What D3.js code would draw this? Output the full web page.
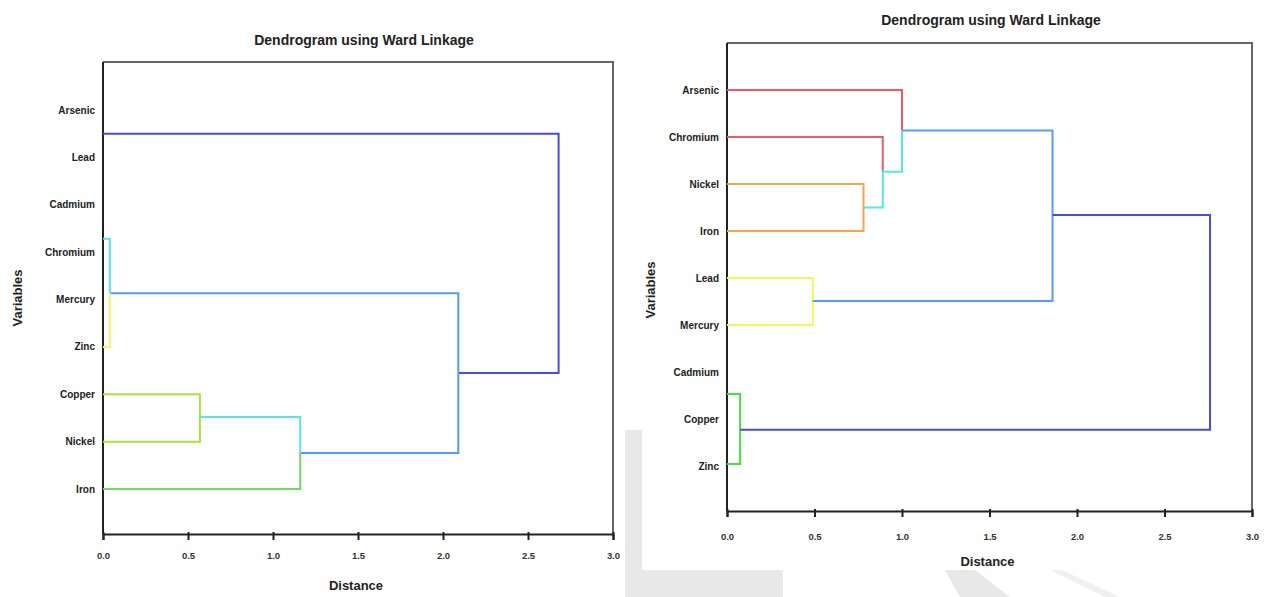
<!DOCTYPE html>
<html>
<head>
<meta charset="utf-8">
<script src="https://cdn.jsdelivr.net/npm/d3@7"></script>
<style>
  body { margin: 0; background: #fff; }
  svg { display: block; font-family: "Liberation Sans", Arial, sans-serif; }
  .lbl { font-size: 10px; font-weight: bold; fill: #222; }
  .tick-lbl { font-size: 9.5px; font-weight: bold; fill: #333; }
  .title { font-size: 14px; font-weight: bold; fill: #222; }
  .axt { font-size: 13px; font-weight: bold; fill: #222; }
</style>
</head>
<body>
<svg id="chart" width="1272" height="597"></svg>
<script>
// distance ticks shared by both panels
const distTicks = [0, 0.5, 1.0, 1.5, 2.0, 2.5, 3.0];

// left panel
const leftRows = ['Arsenic', 'Lead', 'Cadmium', 'Chromium', 'Mercury', 'Zinc', 'Copper', 'Nickel', 'Iron'];
// each branch: group name + polyline of [distance, row]
const leftBranches = [
  { g: 'navy',   pts: [[0, 0.5], [2.68, 0.5], [2.68, 5.55], [2.09, 5.55]] },
  { g: 'sky',    pts: [[0.04, 3.87], [2.09, 3.87], [2.09, 7.24], [1.16, 7.24]] },
  { g: 'cyan',   pts: [[0, 2.72], [0.04, 2.72], [0.04, 3.87]] },
  { g: 'yellow', pts: [[0.04, 3.87], [0.04, 5], [0, 5]] },
  { g: 'lime',   pts: [[0, 6], [0.57, 6], [0.57, 7], [0, 7]] },
  { g: 'cyan',   pts: [[0.57, 6.48], [1.16, 6.48], [1.16, 7.24]] },
  { g: 'green',  pts: [[1.16, 7.24], [1.16, 8], [0, 8]] }
];

// right panel
const rightRows = ['Arsenic', 'Chromium', 'Nickel', 'Iron', 'Lead', 'Mercury', 'Cadmium', 'Copper', 'Zinc'];
const rightBranches = [
  { g: 'red',    pts: [[0, 0], [1.0, 0], [1.0, 0.86]] },
  { g: 'red',    pts: [[0, 1], [0.89, 1], [0.89, 1.74]] },
  { g: 'orange', pts: [[0, 2], [0.78, 2], [0.78, 3], [0, 3]] },
  { g: 'cyan',   pts: [[0.78, 2.5], [0.89, 2.5], [0.89, 1.74], [1.0, 1.74], [1.0, 0.86]] },
  { g: 'yellow', pts: [[0, 4], [0.49, 4], [0.49, 5], [0, 5]] },
  { g: 'sky',    pts: [[1.0, 0.86], [1.86, 0.86], [1.86, 4.49], [0.49, 4.49]] },
  { g: 'green2', pts: [[0, 6.47], [0.075, 6.47], [0.075, 7.96], [0, 7.96]] },
  { g: 'navy',   pts: [[1.86, 2.66], [2.76, 2.66], [2.76, 7.23], [0.075, 7.23]] }
];

const colours = {
  navy: '#4a4ae8', sky: '#4f9ff5', cyan: '#55e6e6', yellow: '#f7f55a',
  lime: '#a3e63a', green: '#6edc5a', red: '#ec5a64', orange: '#f5a64a', green2: '#3fe23f'
};

const svg = d3.select('#chart');

// faint watermark blocks behind everything
const wm = svg.append('g').attr('fill', '#e8e8e8');
wm.append('rect').attr('x', 625).attr('y', 430).attr('width', 17).attr('height', 167);
wm.append('rect').attr('x', 642).attr('y', 570).attr('width', 141).attr('height', 27);
wm.append('path').attr('d', 'M945,570 L975,570 L1010,597 L960,597 Z');
wm.append('path').attr('d', 'M1050,570 L1062,570 L1120,597 L1105,597 Z').attr('fill', '#f0f0f0');

const panels = [
  { rows: leftRows, branches: leftBranches, x0: 103, x1: 613, y0: 110, y1: 489, top: 62, bottom: 534,
    titleX: 364, titleY: 45, distY: 590, varX: 22, varY: 298, pad: 12, border: '#666' },
  { rows: rightRows, branches: rightBranches, x0: 727, x1: 1252, y0: 90, y1: 466, top: 43, bottom: 511,
    titleX: 991, titleY: 25, distY: 566, varX: 655, varY: 290, pad: 16, border: '#666' }
];

panels.forEach(p => {
  const g = svg.append('g');

  const x = d3.scaleLinear().domain([0, 3]).range([p.x0, p.x1]);
  const y = d3.scaleLinear().domain([0, p.rows.length - 1]).range([p.y0, p.y1]);

  // frame
  g.append('path')
    .attr('d', `M${p.x0},${p.top} L${p.x1},${p.top} L${p.x1},${p.bottom}`)
    .attr('fill', 'none').attr('stroke', p.border).attr('stroke-width', 2);
  g.append('line')
    .attr('x1', p.x0).attr('x2', p.x0).attr('y1', p.top).attr('y2', p.bottom)
    .attr('stroke', '#222').attr('stroke-width', 2);

  // branches
  const line = d3.line().x(d => x(d[0])).y(d => y(d[1]));
  g.selectAll('.br')
    .data(p.branches)
    .join('path')
    .attr('d', d => line(d.pts))
    .attr('fill', 'none')
    .attr('stroke', d => colours[d.g])
    .attr('stroke-width', 2);

  // x axis
  const xAxis = g.append('g')
    .attr('transform', 'translate(0,' + p.bottom + ')')
    .call(d3.axisBottom(x).tickValues(distTicks).tickFormat(d3.format('.1f')).tickSize(6).tickPadding(p.pad));
  xAxis.select('.domain').attr('stroke', '#222').attr('stroke-width', 2);
  xAxis.selectAll('.tick line').attr('stroke', '#222').attr('stroke-width', 2).attr('y1', -2);
  xAxis.selectAll('.tick text').attr('class', 'tick-lbl').attr('font-family', null).attr('font-size', null).attr('fill', null);

  // row labels
  g.selectAll('.row')
    .data(p.rows)
    .join('text')
    .attr('class', 'lbl')
    .attr('x', p.x0 - 8)
    .attr('y', (d, i) => y(i))
    .attr('dy', '0.35em')
    .attr('text-anchor', 'end')
    .text(d => d);

  g.append('text').attr('class', 'title')
    .attr('x', p.titleX).attr('y', p.titleY).attr('text-anchor', 'middle')
    .text('Dendrogram using Ward Linkage');

  g.append('text').attr('class', 'axt')
    .attr('x', (p.x0 + p.x1) / 2 - 2).attr('y', p.distY).attr('text-anchor', 'middle')
    .text('Distance');

  g.append('text').attr('class', 'axt')
    .attr('transform', `translate(${p.varX},${p.varY}) rotate(-90)`)
    .attr('text-anchor', 'middle')
    .text('Variables');
});
</script>
</body>
</html>
